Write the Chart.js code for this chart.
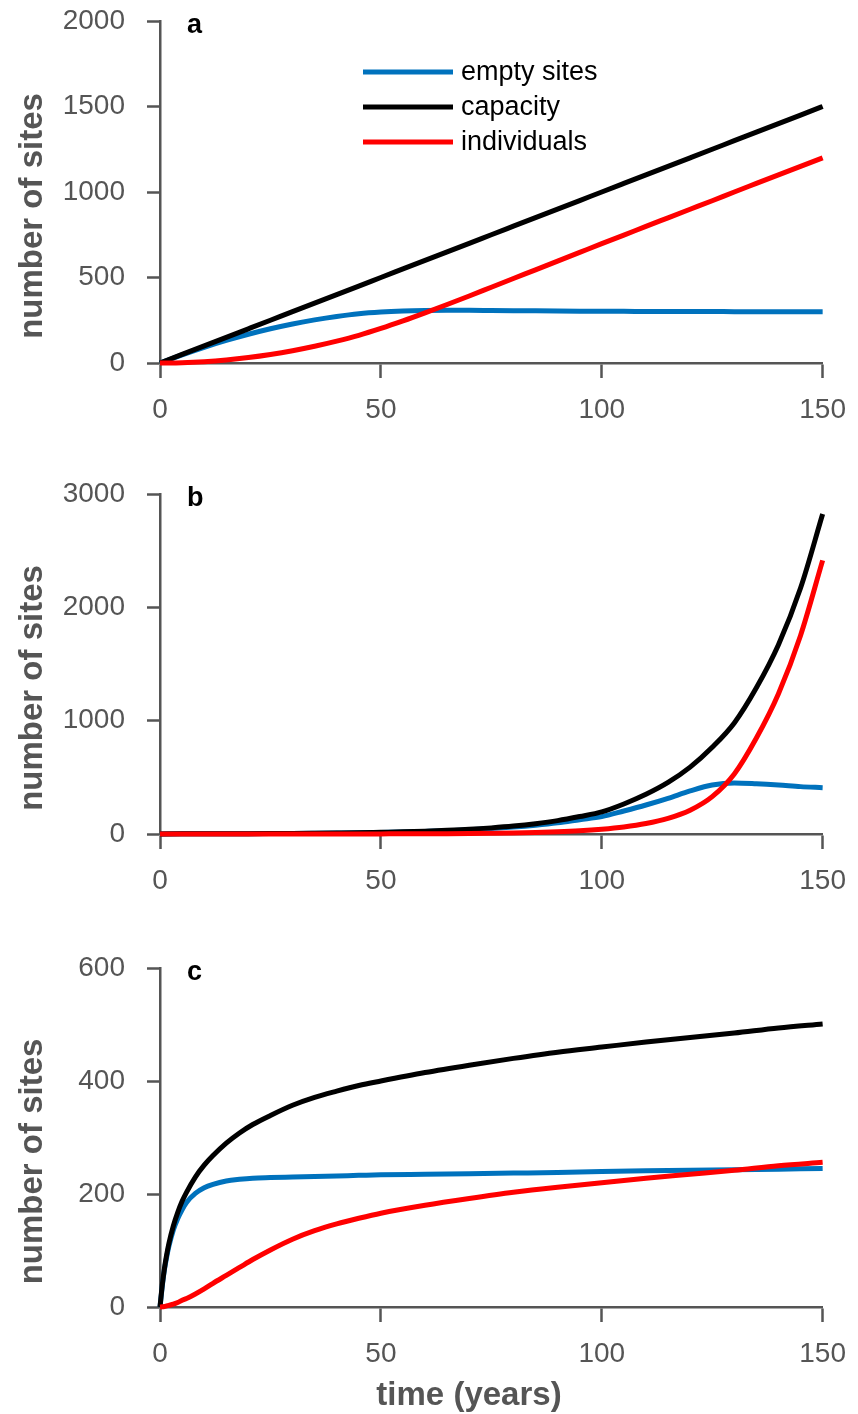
<!DOCTYPE html>
<html>
<head>
<meta charset="utf-8">
<script src="https://cdn.jsdelivr.net/npm/chart.js@4"></script>
<style>
  body { margin: 0; background: #fff; }
  #wrap { position: relative; width: 858px; height: 1414px; overflow: hidden; }
  canvas { position: absolute; left: 0; }
</style>
</head>
<body>
<div id="wrap">
  <canvas id="chartA" width="861" height="480" style="top:-40px"></canvas>
  <canvas id="chartB" width="861" height="472" style="top:440px"></canvas>
  <canvas id="chartC" width="861" height="502" style="top:912px"></canvas>
</div>
<script>
// panel a: linear capacity growth
const yearsA = [0, 5, 10, 15, 20, 25, 30, 35, 40, 45, 50, 55, 60, 65, 70, 75, 80, 85, 90, 95, 100, 105, 110, 115, 120, 125, 130, 135, 140, 145, 150];
const capacityA = [0, 50, 100, 150, 200, 250, 300, 350, 400, 450, 500, 550, 600, 650, 700, 750, 800, 850, 900, 950, 1000, 1050, 1100, 1150, 1200, 1250, 1300, 1350, 1400, 1450, 1500];
const emptyA = [0, 48, 92, 132, 168, 200, 228, 252, 272, 288, 298, 304, 307, 308, 308, 307, 306, 305, 304, 303, 302, 302, 301, 301, 301, 301, 300, 300, 300, 300, 300];
const individualsA = [0, 2, 8, 18, 32, 50, 72, 98, 128, 162, 202, 246, 293, 342, 392, 443, 494, 545, 596, 647, 698, 748, 799, 849, 899, 949, 1000, 1050, 1100, 1150, 1200];

// panel b: exponential capacity growth
const yearsB = [0, 5, 10, 15, 20, 25, 30, 35, 40, 45, 50, 55, 60, 65, 70, 75, 80, 85, 90, 95, 100, 105, 110, 115, 120, 125, 130, 135, 140, 145, 150];
const capacityB = [1, 1.4, 1.8, 2.3, 3, 4, 5, 6.6, 8.6, 11, 15, 19, 25, 32, 41, 54, 70, 91, 118, 154, 195, 265, 350, 455, 590, 765, 980, 1290, 1670, 2170, 2823];
const emptyB = [1, 1.4, 1.8, 2.3, 2.9, 3.9, 4.8, 6.3, 8.1, 10.3, 14, 17.5, 23, 29, 36.5, 47.5, 61, 78, 99, 126, 153, 203, 256, 315, 380, 432, 450, 443, 432, 418, 409];
const individualsB = [0, 0, 0, 0, 0.1, 0.1, 0.2, 0.3, 0.5, 0.7, 1, 1.5, 2, 3, 4.5, 6.5, 9, 13, 19, 28, 42, 62, 92, 138, 210, 330, 530, 847, 1238, 1752, 2414];

// panel c: saturating capacity growth
const yearsC = [0, 0.5, 1, 1.5, 2, 3, 4, 5, 6, 8, 10, 12, 15, 18, 21, 25, 30, 35, 40, 45, 50, 60, 70, 80, 90, 100, 110, 120, 130, 140, 150];
const capacityC = [0, 38, 68, 92, 112, 143, 167, 187, 203, 230, 251, 268, 290, 308, 323, 339, 357, 371, 382, 392, 400, 415, 428, 440, 451, 460, 469, 477, 485, 494, 501];
const emptyC = [0, 36, 66, 88, 107, 136, 156, 172, 185, 201, 211, 217, 223, 226, 228, 229, 230, 231, 232, 233, 234, 235, 236, 237, 238, 240, 241, 242, 243, 244, 245];
const individualsC = [0, 0.3, 1, 2, 3, 5, 8, 12, 15, 23, 32, 42, 56, 70, 84, 101, 120, 135, 147, 157, 166, 180, 192, 203, 212, 220, 228, 235, 242, 250, 256];

const seriesNames = ['empty sites', 'capacity', 'individuals'];
const seriesColors = ['#0072BD', '#000000', '#FF0000'];
const seriesOrder = [2, 1, 0]; // red on top, blue underneath

const xTicks = [0, 50, 100, 150];
const axisGrey = '#555555';
const FONT = '"Liberation Sans", Arial, Helvetica, sans-serif';

const decor = {
  id: 'decor',
  afterDraw(chart, args, opts) {
    const ctx = chart.ctx;
    const a = chart.chartArea;
    ctx.save();
    // panel letter
    ctx.fillStyle = '#000';
    ctx.font = 'bold 27px ' + FONT;
    ctx.textAlign = 'left';
    ctx.textBaseline = 'alphabetic';
    ctx.fillText(opts.letter, a.left + 27, a.top + 12);
    // y title
    ctx.save();
    ctx.translate(42, (a.top + a.bottom) / 2 + 24);
    ctx.rotate(-Math.PI / 2);
    ctx.fillStyle = axisGrey;
    ctx.font = 'bold 33px ' + FONT;
    ctx.textAlign = 'center';
    ctx.fillText('number of sites', 0, 0);
    ctx.restore();
    // x title
    if (opts.xTitle) {
      ctx.fillStyle = axisGrey;
      ctx.font = 'bold 33px ' + FONT;
      ctx.textAlign = 'center';
      ctx.fillText(opts.xTitle, 469, 493);
    }
    // legend
    if (opts.legend) {
      ctx.font = '27px ' + FONT;
      ctx.textBaseline = 'middle';
      ctx.textAlign = 'left';
      chart.data.datasets.forEach((ds, i) => {
        const y = a.top + 51 + i * 35;
        ctx.strokeStyle = ds.borderColor;
        ctx.lineWidth = 5;
        ctx.beginPath();
        ctx.moveTo(363, y);
        ctx.lineTo(453, y);
        ctx.stroke();
        ctx.fillStyle = '#000';
        ctx.fillText(ds.label, 461, y + 1);
      });
    }
    ctx.restore();
  }
};

function makeChart(id, years, empty, capacity, individuals, cfg) {
  const cols = [empty, capacity, individuals];
  new Chart(document.getElementById(id), {
    type: 'line',
    data: {
      datasets: cols.map((vals, k) => ({
        label: seriesNames[k],
        data: years.map((t, i) => ({ x: t, y: vals[i] })),
        borderColor: seriesColors[k],
        borderWidth: 5,
        pointRadius: 0,
        cubicInterpolationMode: 'monotone',
        order: seriesOrder[k],
        clip: false,
      })),
    },
    options: {
      responsive: false,
      animation: false,
      devicePixelRatio: 1,
      layout: { padding: { left: 13, right: 33, top: cfg.top, bottom: 0 } },
      plugins: {
        legend: { display: false },
        tooltip: { enabled: false },
        decor: { letter: cfg.letter, legend: cfg.legend, xTitle: cfg.xTitle },
      },
      scales: {
        x: {
          type: 'linear',
          min: 0,
          max: 150,
          afterBuildTicks: (s) => { s.ticks = xTicks.map((v) => ({ value: v })); },
          afterFit: (s) => { s.height = cfg.xHeight; },
          grid: { drawOnChartArea: false, tickLength: 15, tickWidth: 2.5, tickColor: axisGrey },
          border: { color: axisGrey, width: 2.5 },
          ticks: { color: axisGrey, font: { family: FONT, size: 28 }, padding: 15, maxRotation: 0, callback: (v) => String(v) },
        },
        y: {
          min: 0,
          max: cfg.yTicks[cfg.yTicks.length - 1],
          afterBuildTicks: (s) => { s.ticks = cfg.yTicks.map((v) => ({ value: v })); },
          afterFit: (s) => { s.width = 147; },
          grid: { drawOnChartArea: false, tickLength: 13, tickWidth: 2.5, tickColor: axisGrey },
          border: { color: axisGrey, width: 2.5 },
          ticks: { color: axisGrey, font: { family: FONT, size: 28 }, padding: 22, callback: (v) => String(v) },
        },
      },
    },
    plugins: [decor],
  });
}

makeChart('chartA', yearsA, emptyA, capacityA, individualsA,
  { letter: 'a', top: 61, xHeight: 77, yTicks: [0, 500, 1000, 1500, 2000], legend: true });
makeChart('chartB', yearsB, emptyB, capacityB, individualsB,
  { letter: 'b', top: 54, xHeight: 78, yTicks: [0, 1000, 2000, 3000] });
makeChart('chartC', yearsC, emptyC, capacityC, individualsC,
  { letter: 'c', top: 56, xHeight: 107, yTicks: [0, 200, 400, 600], xTitle: 'time (years)' });
</script>
</body>
</html>
